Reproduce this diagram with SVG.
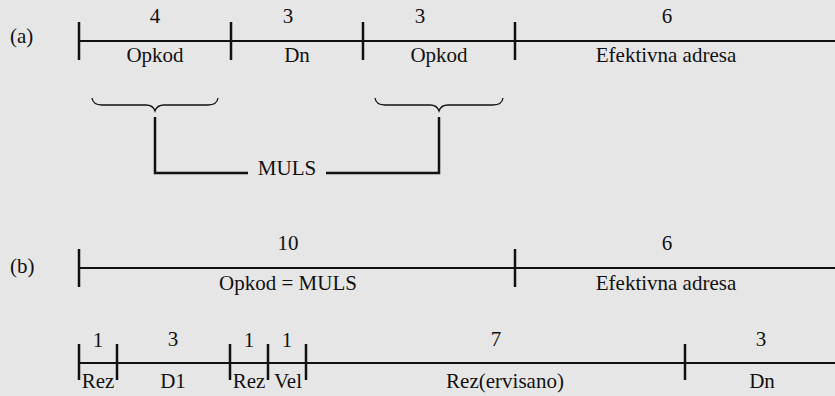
<svg xmlns="http://www.w3.org/2000/svg" width="835" height="396" viewBox="0 0 835 396">
<style>
.t{font-family:"Liberation Serif","Times New Roman",serif;font-size:21px;fill:#111;text-anchor:middle}
.ln{stroke:#111;stroke-width:2;fill:none}
.tk{stroke:#111;stroke-width:2.5;fill:none}
.br{stroke:#111;stroke-width:1.3;fill:none}
.st{text-anchor:start}
</style>
<rect width="835" height="396" fill="#e6e6e6"/>
<g id="rowA" class="t">
  <text class="st" x="10" y="43">(a)</text>
  <line class="ln" x1="79" y1="41" x2="835" y2="41"/>
  <path class="tk" d="M79,22V60M231,22V60M363,22V60M515,22V60"/>
  <text x="155" y="23">4</text>
  <text x="288" y="23">3</text>
  <text x="420" y="23">3</text>
  <text x="667" y="23">6</text>
  <text x="155" y="62">Opkod</text>
  <text x="297" y="62">Dn</text>
  <text x="439" y="62">Opkod</text>
  <text x="666" y="62">Efektivna adresa</text>
</g>
<g id="braces">
  <path class="br" d="M92,98 Q93,105 102,105 L146,105 Q153,105 155,111 Q157,105 164,105 L208,105 Q217,105 218,98"/>
  <path class="br" d="M375,98 Q376,105 385,105 L430,105 Q437,105 439,111 Q441,105 448,105 L493,105 Q502,105 503,98"/>
</g>
<g id="connectors">
  <path class="tk" d="M155,117 V173 H248"/>
  <path class="tk" d="M326,173 H439 V117"/>
</g>
<g id="muls" class="t">
  <text x="287" y="175">MULS</text>
</g>
<g id="rowB" class="t">
  <text class="st" x="10" y="273">(b)</text>
  <line class="ln" x1="79" y1="268" x2="835" y2="268"/>
  <path class="tk" d="M79,249V287M515,249V287"/>
  <text x="288" y="250">10</text>
  <text x="667" y="250">6</text>
  <text x="288" y="290">Opkod = MULS</text>
  <text x="666" y="290">Efektivna adresa</text>
</g>
<g id="rowC" class="t">
  <line class="ln" x1="79" y1="363" x2="835" y2="363"/>
  <path class="tk" d="M79,344V380M117,344V380M230,344V380M268,344V380M306,344V380M685,344V380"/>
  <text x="98" y="347">1</text>
  <text x="173" y="346">3</text>
  <text x="249" y="347">1</text>
  <text x="287" y="347">1</text>
  <text x="496" y="346">7</text>
  <text x="761" y="346">3</text>
  <text x="98" y="388">Rez</text>
  <text x="173" y="388">D1</text>
  <text x="249" y="388">Rez</text>
  <text x="288" y="388">Vel</text>
  <text x="505" y="388">Rez(ervisano)</text>
  <text x="762" y="388">Dn</text>
</g>
</svg>
